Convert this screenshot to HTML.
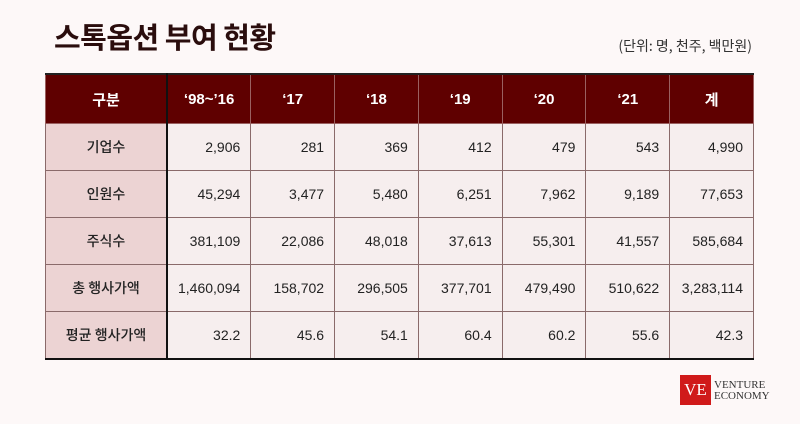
<!DOCTYPE html><html><head><meta charset="utf-8"><style>
body{margin:0;width:800px;height:424px;background:#fdf8f8;font-family:"Liberation Sans","Noto Sans CJK KR",sans-serif;position:relative;overflow:hidden}
h1{position:absolute;left:54px;top:15px;margin:0;font-size:29px;font-weight:bold;color:#2a0d0d;font-family:"Noto Sans CJK KR",sans-serif;letter-spacing:-0.5px}
.unit{position:absolute;right:48px;top:36px;font-size:14px;color:#333;font-family:"Noto Sans CJK KR",sans-serif}
table{position:absolute;left:45px;top:73px;border-collapse:collapse;table-layout:fixed;width:709px}
td,th{height:46px;padding:0 10px;font-size:14px;color:#222;border:1px solid #8a6a6a;background:#f6eeee;text-align:right}
th{background:#5f0000;color:#fff;text-align:center;height:48px;font-size:15px;border-color:#9a6060;border-top:2px solid #222}
td:first-child,th:first-child{width:100px;text-align:center;border-right:2px solid #111}
td:first-child{background:#ecd3d3;font-family:"Noto Sans CJK KR",sans-serif;font-weight:500}
tr:last-child td{border-bottom:2px solid #111}
.logo{position:absolute;left:680px;top:375px;width:31px;height:30px;background:#d01a1a;color:#fff;font-family:"Liberation Serif",serif;font-size:17px;line-height:30px;text-align:center}
.lt{position:absolute;left:714px;top:380px;font-family:"Liberation Serif",serif;font-size:11px;line-height:11px;color:#333}
</style></head><body>
<h1>스톡옵션 부여 현황</h1>
<div class="unit">(단위: 명, 천주, 백만원)</div>
<table>
<tr><th>구분</th><th>‘98~’16</th><th>‘17</th><th>‘18</th><th>‘19</th><th>‘20</th><th>‘21</th><th>계</th></tr>
<tr><td>기업수</td><td>2,906</td><td>281</td><td>369</td><td>412</td><td>479</td><td>543</td><td>4,990</td></tr>
<tr><td>인원수</td><td>45,294</td><td>3,477</td><td>5,480</td><td>6,251</td><td>7,962</td><td>9,189</td><td>77,653</td></tr>
<tr><td>주식수</td><td>381,109</td><td>22,086</td><td>48,018</td><td>37,613</td><td>55,301</td><td>41,557</td><td>585,684</td></tr>
<tr><td>총 행사가액</td><td>1,460,094</td><td>158,702</td><td>296,505</td><td>377,701</td><td>479,490</td><td>510,622</td><td>3,283,114</td></tr>
<tr><td>평균 행사가액</td><td>32.2</td><td>45.6</td><td>54.1</td><td>60.4</td><td>60.2</td><td>55.6</td><td>42.3</td></tr>
</table>
<div class="logo">VE</div>
<div class="lt">VENTURE<br>ECONOMY</div>
</body></html>
